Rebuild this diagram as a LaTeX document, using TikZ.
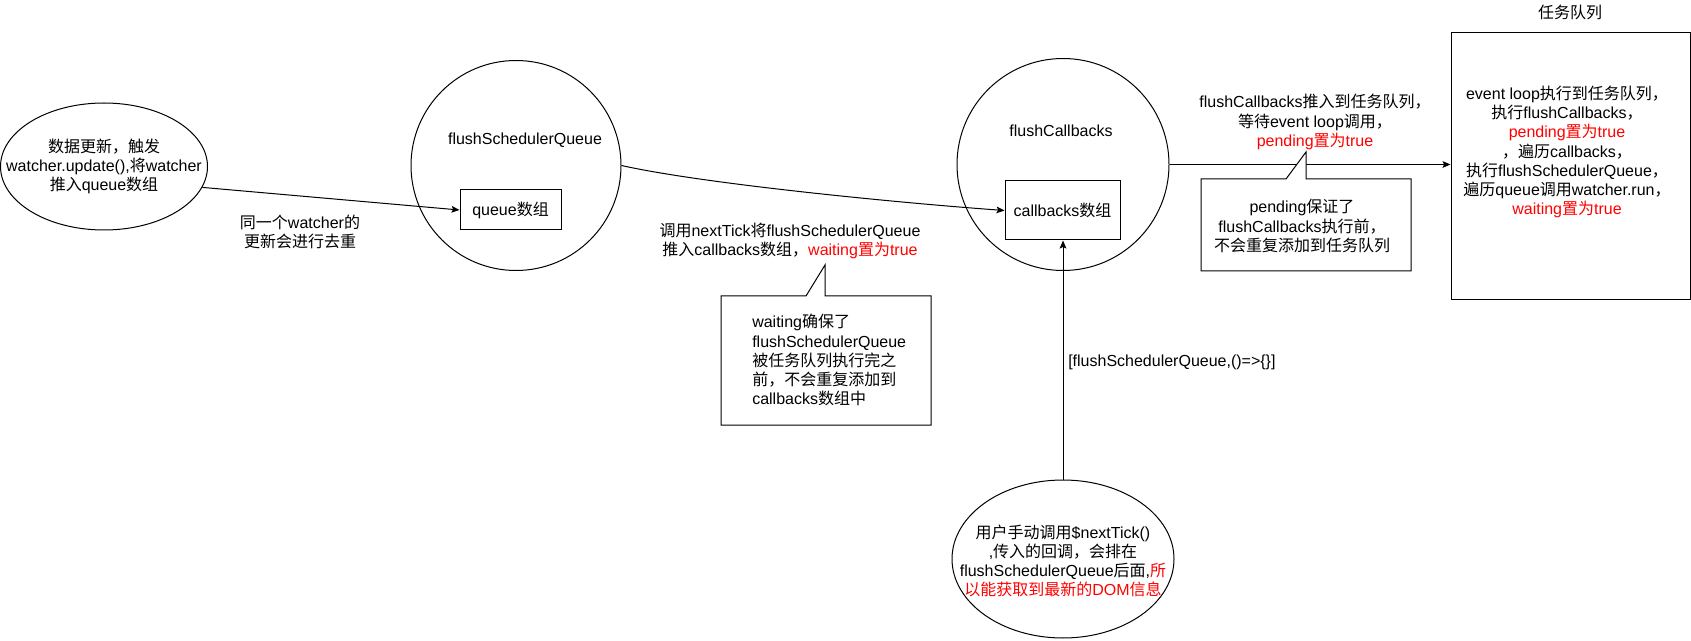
\documentclass[tikz,border=0pt]{standalone}
\usepackage{fontspec}
\setmainfont{Liberation Sans}
\newfontfamily\cjkfont{Noto Sans CJK SC}
\usetikzlibrary{shapes.geometric,arrows.meta}
% Chinese runs are set in the CJK family, everything else in the main font
\newcommand\zh[1]{{\cjkfont #1}}
\definecolor{hot}{HTML}{FF0000}

\begin{document}
\begin{tikzpicture}[x=0.75pt,y=-0.75pt,
  every node/.style={font=\fontsize{12}{14.3}\selectfont, text=black},
  txt/.style={inner sep=0pt, align=center},
  ellbox/.style={draw, ellipse, line width=0.75pt, inner sep=0pt},
  circbox/.style={draw, circle, line width=0.75pt, inner sep=0pt},
  rectbox/.style={draw, rectangle, line width=0.75pt, inner sep=0pt, align=center},
  link/.style={draw, line width=0.75pt, -{Stealth[length=6pt,width=5pt,inset=1.2pt]}},
  bubble/.style={draw, line width=0.75pt, fill=white, line join=miter}]

\useasboundingbox (0,0) rectangle (1691,641);

% --- data update ---------------------------------------------------------
\node[ellbox, minimum width={207*0.75pt}, minimum height={127*0.75pt}] (upd) at (104,166.5) {};
\node[txt] (updtxt) at (104,166) {\zh{数据更新，触发}\\watcher.update(),\zh{将}watcher\\\zh{推入}queue\zh{数组}};
\node[txt] (dedup) at (300,232) {\zh{同一个}watcher\zh{的}\\\zh{更新会进行去重}};

% --- flushSchedulerQueue ---------------------------------------------------
\node[circbox, minimum size={210*0.75pt}] (fsq) at (516,165.5) {};
\node[txt] (fsqtxt) at (525,140) {flushSchedulerQueue};
\node[rectbox, minimum width={101*0.75pt}, minimum height={40*0.75pt}] (qbox) at (510.5,210) {queue\zh{数组}};

% --- flushCallbacks --------------------------------------------------------
\node[circbox, minimum size={212*0.75pt}] (fcb) at (1063,164.5) {};
\node[txt] (fcbtxt) at (1061,131) {flushCallbacks};
\node[rectbox, minimum width={115*0.75pt}, minimum height={59*0.75pt}] (cbox) at (1062.5,210.5) {callbacks\zh{数组}};

% --- task queue ------------------------------------------------------------
\node[rectbox, minimum width={239*0.75pt}, minimum height={267*0.75pt}] (task) at (1570.5,166.5) {};
\node[txt] (tasktitle) at (1570,12) {\zh{任务队列}};
\node[txt] (tasktxt) at (1567,152) {event loop\zh{执行到任务队列，}\\\zh{执行}flushCallbacks\zh{，}\\\textcolor{hot}{pending\zh{置为}true}\\\zh{，遍历}callbacks\zh{，}\\\zh{执行}flushSchedulerQueue\zh{，}\\\zh{遍历}queue\zh{调用}watcher.run\zh{，}\\\textcolor{hot}{waiting\zh{置为}true}};

% --- user nextTick ---------------------------------------------------------
\node[ellbox, minimum width={222*0.75pt}, minimum height={158*0.75pt}] (user) at (1063,559) {};
\node[txt] (usertxt) at (1063,561) {\zh{用户手动调用}\$nextTick()\\,\zh{传入的回调，会排在}\\flushSchedulerQueue\zh{后面},\textcolor{hot}{\zh{所}}\\\textcolor{hot}{\zh{以能获取到最新的}DOM\zh{信息}}};

% --- connectors ------------------------------------------------------------
\draw[link] (upd.-12.5) -- (qbox.west);
\draw[link] (fsq.east) .. controls +(80,18) and +(-110,-8) .. (cbox.west);
\draw[link] (fcb.east) -- (fcb.east -| task.west);
\draw[link] (user.north) -- (user.north |- cbox.south);

% --- connector labels ------------------------------------------------------
\node[txt] (ticklbl) at (790,241) {\zh{调用}nextTick\zh{将}flushSchedulerQueue\\\zh{推入}callbacks\zh{数组，}\textcolor{hot}{waiting\zh{置为}true}};
\node[txt] (pushlbl) at (1315,122) {flushCallbacks\zh{推入到任务队列，}\\\zh{等待}event loop\zh{调用，}\\\textcolor{hot}{pending\zh{置为}true}};
\node[txt, anchor=west] (arrlbl) at (1068,362) {[flushSchedulerQueue,()=>\{\}]};

% --- callout: waiting ------------------------------------------------------
\draw[bubble] (721,296) -- (806,296) -- (825,265) -- (825,296) -- (931,296)
  -- (931,425) -- (721,425) -- cycle;
\node[inner sep=0pt, align=left, anchor=west] (waitnote) at (752,360) {waiting\zh{确保了}\\flushSchedulerQueue\\\zh{被任务队列执行完之}\\\zh{前，不会重复添加到}\\callbacks\zh{数组中}};

% --- callout: pending ------------------------------------------------------
\draw[bubble] (1201,179) -- (1286,179) -- (1306,152) -- (1306,179) -- (1411,179)
  -- (1411,271) -- (1201,271) -- cycle;
\node[txt] (pendnote) at (1302,226) {pending\zh{保证了}\\flushCallbacks\zh{执行前，}\\\zh{不会重复添加到任务队列}};

\end{tikzpicture}
\end{document}
